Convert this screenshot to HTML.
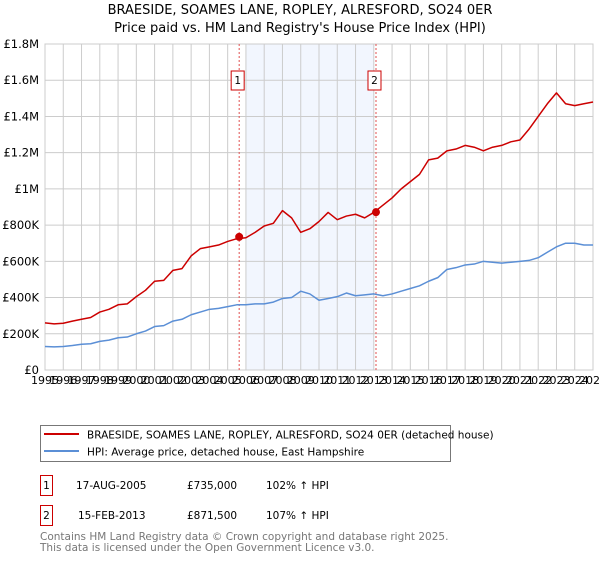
<!DOCTYPE html>
<html><head><meta charset="utf-8"><style>
body{margin:0;background:#fff;font-family:"DejaVu Sans","Liberation Sans",sans-serif;}
svg text{font-family:"DejaVu Sans","Liberation Sans",sans-serif;}
</style></head><body>
<svg id="chart" width="600" height="560" xmlns="http://www.w3.org/2000/svg">
<text x="300" y="14" text-anchor="middle" font-size="13" fill="#000">BRAESIDE, SOAMES LANE, ROPLEY, ALRESFORD, SO24 0ER</text>
<text x="300" y="32" text-anchor="middle" font-size="13" fill="#000">Price paid vs. HM Land Registry's House Price Index (HPI)</text>
<g id="grid"></g>
<g id="marks"></g>
<g id="legend">
<rect x="40.5" y="425.5" width="410" height="36" fill="#fff" stroke="#777"/>
<line x1="44" y1="434" x2="79" y2="434" stroke="#cc0000" stroke-width="2"/>
<text x="87" y="438.5" font-size="10.5">BRAESIDE, SOAMES LANE, ROPLEY, ALRESFORD, SO24 0ER (detached house)</text>
<line x1="44" y1="451" x2="79" y2="451" stroke="#5b8fd6" stroke-width="2"/>
<text x="87" y="455.5" font-size="10.5">HPI: Average price, detached house, East Hampshire</text>
</g>
<g font-size="10.5">
<rect x="40.5" y="475.5" width="12" height="20" fill="#fff" stroke="#cc0000"/>
<text x="46.5" y="489" text-anchor="middle">1</text>
<text x="76" y="489">17-AUG-2005</text><text x="187" y="489">£735,000</text><text x="266" y="489">102% ↑ HPI</text>
<rect x="40.5" y="505.5" width="12" height="20" fill="#fff" stroke="#cc0000"/>
<text x="46.5" y="519" text-anchor="middle">2</text>
<text x="78" y="519">15-FEB-2013</text><text x="187" y="519">£871,500</text><text x="266" y="519">107% ↑ HPI</text>
</g>
<text x="40" y="540" font-size="10.5" fill="#777">Contains HM Land Registry data © Crown copyright and database right 2025.</text>
<text x="40" y="551" font-size="10.5" fill="#777">This data is licensed under the Open Government Licence v3.0.</text>
</svg>
<script>
const dates=[];
for(let i=0;i<=60;i++){dates.push(1995+i*0.5);}
const hpiValues=[130,128,130,135,142,145,158,165,178,182,200,215,240,245,270,280,305,320,335,340,350,360,360,365,365,375,395,400,435,420,385,395,405,425,410,415,420,410,420,435,450,465,490,510,555,565,580,585,600,595,590,595,600,605,620,650,680,700,700,690,690];
const propertyValues=[260,255,258,270,280,290,320,335,360,365,405,440,490,495,550,560,630,670,680,690,710,725,730,760,795,810,880,840,760,780,820,870,830,850,860,840,870,910,950,1000,1040,1080,1160,1170,1210,1220,1240,1230,1210,1230,1240,1260,1270,1330,1400,1470,1530,1470,1460,1470,1480];
const yTicks=[0,200,400,600,800,1000,1200,1400,1600,1800];
const yTickLabels=["£0","£200K","£400K","£600K","£800K","£1M","£1.2M","£1.4M","£1.6M","£1.8M"];
const sales=[{label:"1",year:2005.63,value:735},{label:"2",year:2013.12,value:871.5}];
const NS="http://www.w3.org/2000/svg";
const X0=45,X1=593,Y0=370,Y1=44;
function xs(y){return X0+(y-1995)/30*(X1-X0);}
function ys(v){return Y0-v/1800*(Y0-Y1);}
function mk(t,a,p){const e=document.createElementNS(NS,t);for(const k in a)e.setAttribute(k,a[k]);p.appendChild(e);return e;}
const grid=document.getElementById('grid'),marks=document.getElementById('marks');
const shade=mk('rect',{x:xs(2006),y:Y1,width:xs(2013)-xs(2006),height:Y0-Y1,fill:'#f2f6fe'},grid);


for(let y=1995;y<=2025;y++){
 mk('line',{x1:xs(y),x2:xs(y),y1:Y1,y2:Y0,stroke:'#ccc','stroke-width':1},grid);
 const t=mk('text',{x:xs(y),y:Y0+14,'font-size':11,'text-anchor':'middle'},grid);
 
 
 t.textContent=y;
}
yTicks.forEach((v,i)=>{
 mk('line',{x1:X0,x2:X1,y1:ys(v),y2:ys(v),stroke:'#ccc','stroke-width':1},grid);
 const t=mk('text',{x:X0-6,y:ys(v)+4,'font-size':11.5,'text-anchor':'end'},grid);
 
 
 t.textContent=yTickLabels[i];
});
mk('rect',{x:X0,y:Y1,width:X1-X0,height:Y0-Y1,fill:'none',stroke:'#ccc'},grid);
sales.forEach(s=>{
 const l=mk('line',{x1:xs(s.year),x2:xs(s.year),y1:Y1,y2:Y0,stroke:'#e05050','stroke-dasharray':'2,2','stroke-width':1},marks);
 
 
 const b=mk('rect',{x:xs(s.year)-8,y:71,width:13,height:19,fill:'#fff',stroke:'#cc0000'},marks);
 
 
 const t=mk('text',{x:xs(s.year)-1.5,y:84,'font-size':10.5,'text-anchor':'middle'},marks);
 t.textContent=s.label;
});
function line(vals,color,name){
 const p=mk('polyline',{points:vals.map((v,i)=>xs(dates[i])+','+ys(v)).join(' '),fill:'none',stroke:color,'stroke-width':1.5,'stroke-linejoin':'round'},marks);
 
 
}
line(hpiValues,'#5b8fd6','hpi-line');
line(propertyValues,'#cc0000','property-line');
sales.forEach(s=>{
 const c=mk('circle',{cx:xs(s.year),cy:ys(s.value),r:4,fill:'#cc0000'},marks);
 
 
});
</script>
</body></html>
